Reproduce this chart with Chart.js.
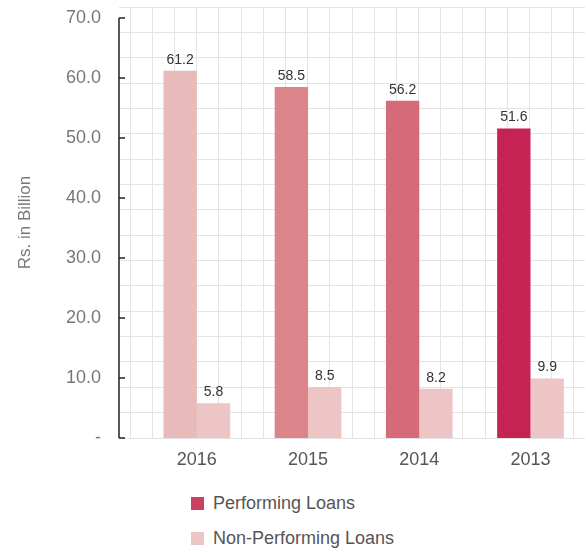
<!DOCTYPE html>
<html>
<head>
<meta charset="utf-8">
<script src="https://cdn.jsdelivr.net/npm/chart.js@4/dist/chart.umd.min.js"></script>
<style>
  body { margin: 0; background: #fff; font-family: "Liberation Sans", Arial, sans-serif; }
  #wrap { position: relative; width: 586px; height: 480px; }
  #legend { position: absolute; left: 191px; top: 489px; }
  .item { display: flex; align-items: center; height: 28px; margin-bottom: 7px; color: #555; font-size: 18px; }
  .box { width: 13px; height: 13px; margin-right: 9px; }
</style>
</head>
<body>
<div id="wrap"><canvas id="mycanvas"></canvas></div>
<div id="legend"></div>
<script>
var years = ['2016', '2015', '2014', '2013'];
var performing = [61.2, 58.5, 56.2, 51.6];
var nonPerforming = [5.8, 8.5, 8.2, 9.9];
var yTicks = [0, 10, 20, 30, 40, 50, 60, 70];
var performingColors = ['#e8baba', '#db848a', '#d56b78', '#c52354'];
var nonPerformingColor = '#edc5c5';
var legendColors = ['#cb3f5f', '#edc5c5'];

function toPoints(values) {
  return values.map(function (v, i) { return { x: i, y: v }; });
}

function noPadding(scale) {
  scale.paddingTop = 0;
  scale.paddingBottom = 0;
  scale.paddingLeft = 0;
  scale.paddingRight = 0;
}

// value labels above each bar
var valueLabels = {
  id: 'valueLabels',
  afterDatasetsDraw: function (chart) {
    var ctx = chart.ctx;
    ctx.save();
    ctx.font = '14px "Liberation Sans", Arial, sans-serif';
    ctx.fillStyle = '#333';
    ctx.textAlign = 'center';
    ctx.textBaseline = 'bottom';
    chart.data.datasets.forEach(function (ds, di) {
      chart.getDatasetMeta(di).data.forEach(function (bar, i) {
        ctx.fillText(ds.data[i].y.toFixed(1), bar.x, bar.y - 4);
      });
    });
    ctx.restore();
  }
};

// y axis line with inward tick marks
var axisLine = {
  id: 'axisLine',
  afterDraw: function (chart) {
    var ys = chart.scales.y;
    var ctx = chart.ctx;
    var x = ys.right;
    ctx.save();
    ctx.strokeStyle = '#222';
    ctx.lineWidth = 1.5;
    ctx.beginPath();
    ctx.moveTo(x, ys.getPixelForValue(yTicks[yTicks.length - 1]));
    ctx.lineTo(x, ys.getPixelForValue(0));
    yTicks.forEach(function (t) {
      var py = ys.getPixelForValue(t);
      ctx.moveTo(x, py);
      ctx.lineTo(x + 6, py);
    });
    ctx.stroke();
    ctx.restore();
  }
};

var ctx = document.getElementById('mycanvas');
var chart = new Chart(ctx, {
  type: 'bar',
  data: {
    datasets: [
      {
        label: 'Performing Loans',
        data: toPoints(performing),
        backgroundColor: performingColors,
        borderWidth: 0
      },
      {
        label: 'Non-Performing Loans',
        data: toPoints(nonPerforming),
        backgroundColor: nonPerformingColor,
        borderWidth: 0
      }
    ]
  },
  options: {
    responsive: true,
    maintainAspectRatio: false,
    animation: false,
    layout: { padding: { top: 7, right: 1, left: 0, bottom: 0 } },
    datasets: { bar: { categoryPercentage: 0.6, barPercentage: 1.0 } },
    plugins: { legend: { display: false }, tooltip: { enabled: false } },
    scales: {
      x: {
        type: 'linear',
        offset: false,
        min: -0.70,
        max: 3.49,
        grid: { display: false, drawTicks: false },
        border: { display: false },
        afterBuildTicks: function (scale) {
          scale.ticks = years.map(function (y, i) { return { value: i }; });
        },
        afterFit: function (scale) { scale.height = 42; noPadding(scale); },
        ticks: {
          padding: 11,
          color: '#555',
          font: { family: '"Liberation Sans", Arial, sans-serif', size: 18 },
          callback: function (v) { return years[v]; }
        }
      },
      y: {
        min: 0,
        max: 71.83,
        grid: { display: false, drawTicks: false },
        border: { display: false },
        afterBuildTicks: function (scale) {
          scale.ticks = yTicks.map(function (t) { return { value: t }; });
        },
        afterFit: function (scale) { scale.width = 119; noPadding(scale); },
        ticks: {
          padding: 18,
          color: '#777',
          font: { family: '"Liberation Sans", Arial, sans-serif', size: 18 },
          callback: function (v) { return v === 0 ? '-' : v.toFixed(1); }
        },
        title: {
          display: true,
          text: 'Rs. in Billion',
          color: '#777',
          padding: { top: 15, bottom: 0 },
          font: { family: '"Liberation Sans", Arial, sans-serif', size: 17 }
        }
      },
      gx: {
        type: 'linear',
        position: 'top',
        offset: false,
        min: 0,
        max: 21,
        grid: { color: '#e4e4e4', drawTicks: false },
        border: { display: false },
        ticks: { display: false, stepSize: 1 },
        afterFit: function (scale) { scale.height = 0; noPadding(scale); }
      },
      gy: {
        type: 'linear',
        position: 'right',
        min: 0,
        max: 17,
        grid: { color: '#e4e4e4', drawTicks: false },
        border: { display: false },
        ticks: { display: false, stepSize: 1 },
        afterFit: function (scale) { scale.width = 0; noPadding(scale); }
      }
    }
  },
  plugins: [valueLabels, axisLine]
});

var legend = document.getElementById('legend');
chart.data.datasets.forEach(function (ds, i) {
  var item = document.createElement('div');
  item.className = 'item';
  item.innerHTML = '<span class="box" style="background:' + legendColors[i] + '"></span>' + ds.label;
  legend.appendChild(item);
});
</script>
</body>
</html>
